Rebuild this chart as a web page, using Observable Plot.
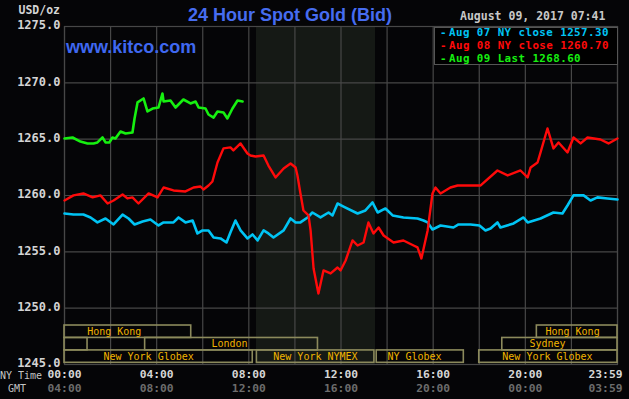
<!DOCTYPE html>
<html><head><meta charset="utf-8">
<script src="https://cdn.jsdelivr.net/npm/d3@7"></script>
<script src="https://cdn.jsdelivr.net/npm/@observablehq/plot@0.6"></script>
<style>
body{margin:0;background:#050507;}
#wrap{position:relative;width:629px;height:399px;overflow:hidden;background:#050507;}
.ov{position:absolute;white-space:nowrap;line-height:1;transform:translateY(-50%);}
.mono{font-family:"DejaVu Sans Mono",monospace;font-weight:bold;}
.sans{font-family:"Liberation Sans",Arial,sans-serif;font-weight:bold;}
</style></head><body><div id="wrap"></div>
<script>
// ---- data ----
const aug07Hours = [0,0.39,0.82,1.13,1.43,1.78,2.13,2.52,2.78,3.04,3.39,3.73,4.08,4.30,4.73,4.95,5.25,5.56,5.77,5.99,6.25,6.47,6.77,7.03,7.20,7.42,7.64,7.94,8.16,8.38,8.64,8.85,9.07,9.51,9.81,10.03,10.24,10.55,10.76,11.11,11.46,11.63,11.85,12.11,12.72,13.06,13.37,13.59,13.93,14.24,14.71,15.32,15.58,15.76,15.97,16.32,16.88,17.10,17.62,18.01,18.27,18.49,18.79,18.92,19.49,19.92,20.10,20.66,21.22,21.61,21.83,22.09,22.53,22.83,23.13,23.57,24.00];
const aug07Prices = [1258.40,1258.31,1258.31,1258.05,1257.61,1257.96,1257.43,1258.31,1257.96,1257.43,1257.70,1257.87,1257.34,1257.61,1257.61,1258.05,1257.61,1257.78,1256.63,1256.90,1256.90,1256.27,1256.19,1255.83,1256.72,1257.78,1256.90,1256.19,1256.54,1256.01,1256.90,1256.63,1256.27,1256.90,1257.96,1257.61,1257.61,1258.05,1258.49,1258.05,1258.49,1258.23,1259.29,1259.02,1258.40,1258.67,1259.38,1258.49,1258.85,1258.23,1258.05,1257.96,1257.78,1257.61,1256.98,1257.34,1257.16,1257.43,1257.43,1257.34,1256.90,1257.07,1257.61,1257.16,1257.52,1258.05,1257.61,1257.96,1258.49,1258.40,1259.11,1260.01,1260.01,1259.56,1259.83,1259.74,1259.65];

const aug08Hours = [0,0.39,0.82,1.22,1.56,1.87,2.13,2.52,2.73,2.95,3.21,3.65,4.04,4.30,4.73,5.25,5.60,5.90,6.03,6.25,6.42,6.64,6.90,7.20,7.33,7.64,7.94,8.07,8.29,8.64,8.85,9.16,9.51,9.81,10.03,10.11,10.24,10.37,10.59,10.68,10.81,11.02,11.24,11.55,11.85,11.98,12.20,12.50,12.72,12.98,13.19,13.41,13.63,13.85,14.28,14.71,15.15,15.32,15.49,15.76,15.97,16.10,16.32,16.75,17.06,17.62,18.06,18.79,19.23,19.79,20.10,20.23,20.53,20.66,20.96,21.22,21.44,21.83,22.09,22.40,22.70,23.26,23.61,24.00];
const aug08Prices = [1259.56,1260.01,1260.18,1259.83,1260.01,1259.29,1259.56,1260.09,1259.74,1259.83,1259.29,1260.18,1259.83,1260.71,1260.45,1260.36,1260.71,1260.80,1260.53,1260.89,1261.24,1262.93,1264.18,1264.27,1264.00,1264.62,1263.73,1263.55,1263.46,1263.55,1262.66,1261.60,1262.40,1262.84,1262.49,1261.78,1260.18,1258.67,1258.23,1256.90,1253.52,1251.30,1253.35,1253.08,1253.61,1253.35,1254.23,1256.01,1255.56,1255.83,1257.61,1256.63,1257.16,1256.45,1255.83,1256.01,1255.56,1255.39,1254.41,1256.90,1260.18,1260.71,1260.18,1260.71,1260.89,1260.89,1260.89,1262.22,1261.78,1262.22,1261.60,1262.49,1262.93,1263.82,1265.95,1264.18,1264.71,1263.82,1265.15,1264.62,1265.15,1264.97,1264.62,1265.06];

const aug09Hours = [0,0.35,0.69,1.00,1.26,1.43,1.65,1.78,1.95,2.08,2.21,2.43,2.65,2.95,3.04,3.17,3.43,3.60,3.82,4.08,4.25,4.30,4.60,4.82,5.16,5.47,5.69,5.82,6.12,6.25,6.47,6.64,6.90,7.07,7.29,7.51,7.73];
const aug09Prices = [1265.06,1265.15,1264.79,1264.62,1264.62,1264.71,1265.15,1264.71,1264.71,1265.15,1265.06,1265.68,1265.50,1265.59,1266.84,1268.26,1268.61,1267.46,1267.72,1267.81,1269.05,1268.34,1268.43,1267.81,1268.52,1268.17,1268.34,1267.81,1267.72,1267.19,1266.92,1267.46,1267.37,1266.84,1267.72,1268.43,1268.35];

const seriesLabels = ["Aug 07 NY close 1257.30", "Aug 08 NY close 1260.70", "Aug 09 Last 1268.60"];
const seriesColors = ["#00c4f4", "#ff0a0a", "#16f010"];

const yTicks = [1245, 1250, 1255, 1260, 1265, 1270, 1275];
const gridHours = [0, 2, 4, 6, 8, 10, 12, 14, 16, 18, 20, 22, 24];
const tickHours = [0, 4, 8, 12, 16, 20, 24];
const nyTimeLabels = ["00:00", "04:00", "08:00", "12:00", "16:00", "20:00", "23:59"];
const gmtLabels = ["04:00", "08:00", "12:00", "16:00", "20:00", "00:00", "03:59"];

const nymexOpen = 8.33, nymexClose = 13.5;

const marketLabels = ["Hong Kong", "Hong Kong", "", "London", "Sydney", "New York Globex", "New York NYMEX", "NY Globex", "New York Globex"];
const marketStart  = [0, 20.5, 0, 3.5, 19.0, 0, 8.35, 13.55, 18.0];
const marketEnd    = [5.5, 24, 1.0, 11.0, 24, 8.17, 13.45, 17.33, 24];
const marketRow    = [0, 0, 1, 1, 1, 2, 2, 2, 2];
const marketLabelAt = [2.16, 22.05, 0.5, 7.16, 20.96, 3.65, 10.89, 15.19, 20.96];

// ---- build tables ----
const toRows = (hs, ps) => hs.map((h, i) => ({h, v: ps[i]}));
const aug07 = toRows(aug07Hours, aug07Prices);
const aug08 = toRows(aug08Hours, aug08Prices);
const aug09 = toRows(aug09Hours, aug09Prices);
const markets = marketLabels.map((label, i) => ({label, start: marketStart[i], end: marketEnd[i], row: marketRow[i], at: marketLabelAt[i]}));

const yDomain = [1245, 1275];
// market band rows sit in the bottom strip of the frame
const rowTop = r => 1248.46 - r * 1.105;
const rowBottom = r => rowTop(r) - 1.1;
const rowMid = r => rowTop(r) - 0.55;

const grid = "#474747";
const mono = "DejaVu Sans Mono, monospace";

const plot = Plot.plot({
  width: 629, height: 399,
  marginLeft: 64, marginRight: 12, marginTop: 26, marginBottom: 35,
  x: {domain: [0, 24], axis: null},
  y: {domain: yDomain, axis: null},
  style: {background: "transparent", color: "#ccc", overflow: "visible"},
  marks: [
    Plot.rect([{a: nymexOpen, b: nymexClose}], {x1: "a", x2: "b", y1: () => yDomain[0], y2: () => yDomain[1], fill: "#151915"}),
    Plot.ruleX(gridHours, {x: d => d, stroke: grid, strokeWidth: 1.2}),
    Plot.ruleY(yTicks, {y: d => d, stroke: grid, strokeWidth: 1.2}),
    Plot.frame({stroke: grid, strokeWidth: 1.2}),
    Plot.rect(markets, {x1: "start", x2: "end", y1: d => rowTop(d.row), y2: d => rowBottom(d.row), stroke: "#8c8a5c", strokeWidth: 1.6, fill: "none"}),
    Plot.text(markets, {x: "at", y: d => rowMid(d.row), text: "label", fill: "#f0b400", fontSize: 10, fontFamily: mono, lineAnchor: "middle"}),
    Plot.line(aug07, {x: "h", y: "v", stroke: seriesColors[0], strokeWidth: 2.6}),
    Plot.line(aug08, {x: "h", y: "v", stroke: seriesColors[1], strokeWidth: 2.4}),
    Plot.line(aug09, {x: "h", y: "v", stroke: seriesColors[2], strokeWidth: 2.6}),
    Plot.text(yTicks, {y: d => d, text: d => d.toFixed(1), frameAnchor: "left", dx: -4, dy: -1, textAnchor: "end", lineAnchor: "middle", fill: "#d4d4d4", fontSize: 12, fontFamily: mono, fontWeight: "bold"}),
    Plot.text(d3.range(6), {x: i => tickHours[i], text: i => nyTimeLabels[i], frameAnchor: "bottom", dy: 10, lineAnchor: "middle", fill: "#d6d6d6", fontSize: 11.3, fontFamily: mono, fontWeight: "bold"}),
    Plot.text([6], {x: i => tickHours[i], text: i => nyTimeLabels[i], frameAnchor: "bottom", dy: 10, dx: -12, lineAnchor: "middle", fill: "#d6d6d6", fontSize: 11.3, fontFamily: mono, fontWeight: "bold"}),
    Plot.text(d3.range(6), {x: i => tickHours[i], text: i => gmtLabels[i], frameAnchor: "bottom", dy: 24, lineAnchor: "middle", fill: "#6c6c6c", fontSize: 11.3, fontFamily: mono, fontWeight: "bold"}),
    Plot.text([6], {x: i => tickHours[i], text: i => gmtLabels[i], frameAnchor: "bottom", dy: 24, dx: -12, lineAnchor: "middle", fill: "#6c6c6c", fontSize: 11.3, fontFamily: mono, fontWeight: "bold"})
  ]
});

const wrap = document.getElementById("wrap");
plot.style.position = "absolute";
plot.style.left = "0"; plot.style.top = "0";
wrap.appendChild(plot);

function ov(text, css, cls) {
  const d = document.createElement("div");
  d.className = "ov " + (cls || "");
  d.textContent = text;
  d.style.cssText += css;
  wrap.appendChild(d);
  return d;
}
ov("24 Hour Spot Gold (Bid)", "left:188px;top:15px;font-size:18px;color:#466cf0;", "sans");
ov("www.kitco.com", "left:66px;top:47px;font-size:18px;color:#3f68f0;", "sans");
ov("August 09, 2017 07:41", "left:460px;top:17px;font-size:11.5px;color:#c8c8c8;", "mono");
ov("USD/oz", "right:569px;top:11px;font-size:11.5px;color:#d4d4d4;", "mono");
ov("NY Time", "left:0px;top:376px;font-size:10px;color:#c4c4c4;font-family:'DejaVu Sans Mono',monospace;");
ov("GMT", "left:8px;top:388.5px;font-size:10px;color:#c4c4c4;font-family:'DejaVu Sans Mono',monospace;");

// legend box
const box = document.createElement("div");
box.style.cssText = "position:absolute;left:434px;top:27px;width:182px;height:36px;background:#000;border:1.5px solid #555;";
wrap.appendChild(box);
const legendY = [32.6, 45.6, 58.6];
seriesLabels.forEach((t, i) => {
  const d = ov(t, "left:449px;top:" + legendY[i] + "px;font-size:10.8px;letter-spacing:0.45px;color:" + seriesColors[i] + ";", "mono");
  const dash = ov("-", "left:440px;top:" + legendY[i] + "px;font-size:10.8px;color:" + seriesColors[i] + ";", "mono");
});
</script></body></html>
